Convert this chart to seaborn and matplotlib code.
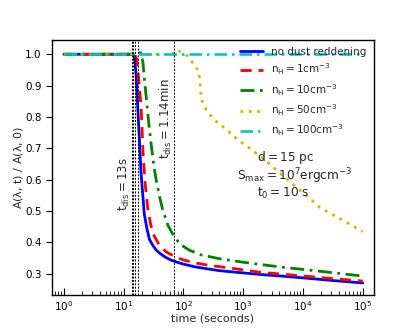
import numpy as np
import pandas as pd
import matplotlib
matplotlib.use("Agg")
import matplotlib.pyplot as plt
import seaborn as sns

# ---- data ----
t_blue = [1, 10, 14.5, 15.3, 16.1, 17.8, 19.6, 22.2, 24.5, 27, 31, 35, 40, 50, 62, 76,
          100, 150, 250, 406, 1000, 1918, 5000, 10300, 30000, 1e5]
v_blue = [1.0, 1.0, 1.0, 0.985, 0.94, 0.78, 0.62, 0.49, 0.445, 0.41, 0.39, 0.376, 0.366, 0.353,
          0.344, 0.338, 0.331, 0.323, 0.316, 0.31, 0.303, 0.298, 0.292, 0.287, 0.279, 0.271]

t_red = [1, 10, 15.5, 16.5, 17.5, 19.6, 21.3, 23, 25.2, 28.5, 32.6, 40, 51.5, 70, 98,
         145, 250, 528, 1918, 10300, 30000, 1e5]
v_red = [1.0, 1.0, 1.0, 0.985, 0.94, 0.833, 0.673, 0.585, 0.513, 0.455, 0.42, 0.39, 0.37,
         0.356, 0.345, 0.336, 0.328, 0.32, 0.305, 0.293, 0.285, 0.277]

t_green = [1, 15, 17.5, 19.5, 21, 22.2, 23.7, 26, 28.8, 32, 35, 40, 45, 55, 71, 90, 127,
           200, 406, 1000, 1918, 5000, 10300, 30000, 1e5]
v_green = [1.0, 1.0, 1.003, 1.005, 0.975, 0.925, 0.87, 0.79, 0.715, 0.645, 0.6, 0.545, 0.505,
           0.455, 0.417, 0.393, 0.375, 0.36, 0.348, 0.337, 0.33, 0.32, 0.314, 0.304, 0.293]

t_yellow = [1, 66, 70, 76, 90, 112, 154, 180, 190, 198, 205, 242, 300, 358, 492, 778,
            1300, 2330, 4170, 9040, 19600, 42600, 1e5]
v_yellow = [1.0, 1.0, 1.008, 1.013, 1.008, 0.998, 0.966, 0.945, 0.91, 0.87, 0.852, 0.822,
            0.80, 0.785, 0.765, 0.73, 0.70, 0.662, 0.62, 0.566, 0.51, 0.475, 0.435]

t_cyan = [1, 1e5]
v_cyan = [1.0, 1.0]

labels = ["no dust reddening",
          r"$\rm{n_H = 1 cm^{-3}}$",
          r"$\rm{n_H = 10 cm^{-3}}$",
          r"$\rm{n_H = 50 cm^{-3}}$",
          r"$\rm{n_H = 100 cm^{-3}}$"]

t_dis_lines = [13.6, 14.4, 15.7, 17.2, 68.4]

# ---- plotting ----
sns.set_style("ticks")
plt.rcParams['font.family'] = ['DejaVu Sans']
plt.rcParams['mathtext.default'] = 'regular'

fig = plt.figure(figsize=(4.15, 3.32), dpi=100)
ax = fig.add_axes([0.125, 0.11, 0.775, 0.77])

series = [
    (t_blue, v_blue, (0, 0, 1), '-', 2.0),
    (t_red, v_red, (1, 0, 0), (0, (4, 2.5)), 2.0),
    (t_green, v_green, (0, 0.5, 0), (0, (5, 2, 1, 2)), 2.0),
    (t_yellow, v_yellow, (0.75, 0.75, 0), (0, (1, 2)), 2.0),
    (t_cyan, v_cyan, (0, 0.75, 0.75), (0, (5, 2, 1, 2)), 1.8),
]
for (t, v, c, ls, lw), lab in zip(series, labels):
    df = pd.DataFrame({'t': t, 'v': v})
    sns.lineplot(data=df, x='t', y='v', ax=ax, color=c, lw=lw,
                 linestyle=ls, label=lab, estimator=None, sort=False)

for tl in t_dis_lines:
    ax.axvline(tl, color='k', lw=0.7, ls=(0, (2, 1.5)))

ax.text(13.6, 0.586, r"$\rm{t_{dis} = 13s}$", rotation=90, ha='right', va='center', fontsize=8.5)
ax.text(68.4, 0.796, r"$\rm{t_{dis} = 1.14min}$", rotation=90, ha='right', va='center', fontsize=8.5)

ax.text(0.728, 0.54, r"$\rm{d = 15\ pc}$", transform=ax.transAxes, ha='center', va='center', fontsize=8.7)
ax.text(0.754, 0.466, r"$\rm{S_{max} = 10^7 erg cm^{-3}}$", transform=ax.transAxes, ha='center', va='center', fontsize=8.7)
ax.text(0.72, 0.399, r"$\rm{t_0 = 10\ s}$", transform=ax.transAxes, ha='center', va='center', fontsize=8.7)

ax.set_xscale('log')
ax.set_xlim(10**-0.2, 10**5.18)
ax.set_ylim(0.231, 1.046)
ax.set_yticks([0.3, 0.4, 0.5, 0.6, 0.7, 0.8, 0.9, 1.0])
ax.set_xlabel('time (seconds)', fontsize=8, labelpad=0)
ax.set_ylabel(r'A($\lambda$, t) / A($\lambda$, 0)', fontsize=8, labelpad=0)
ax.tick_params(axis='x', which='major', direction='in', length=5, width=0.8, labelsize=7.5, colors='k', pad=3)
ax.tick_params(axis='x', which='minor', direction='in', length=3, width=0.6, colors='k')
ax.tick_params(axis='y', direction='out', length=4, width=0.8, labelsize=7.5, colors='k')
for s in ax.spines.values():
    s.set_color('k')
    s.set_linewidth(1.0)

leg = ax.legend(loc='upper right', frameon=False, fontsize=7.5, handlelength=2.2,
                borderaxespad=0.3, labelspacing=0.45)

fig.savefig('out.png', dpi=100)
